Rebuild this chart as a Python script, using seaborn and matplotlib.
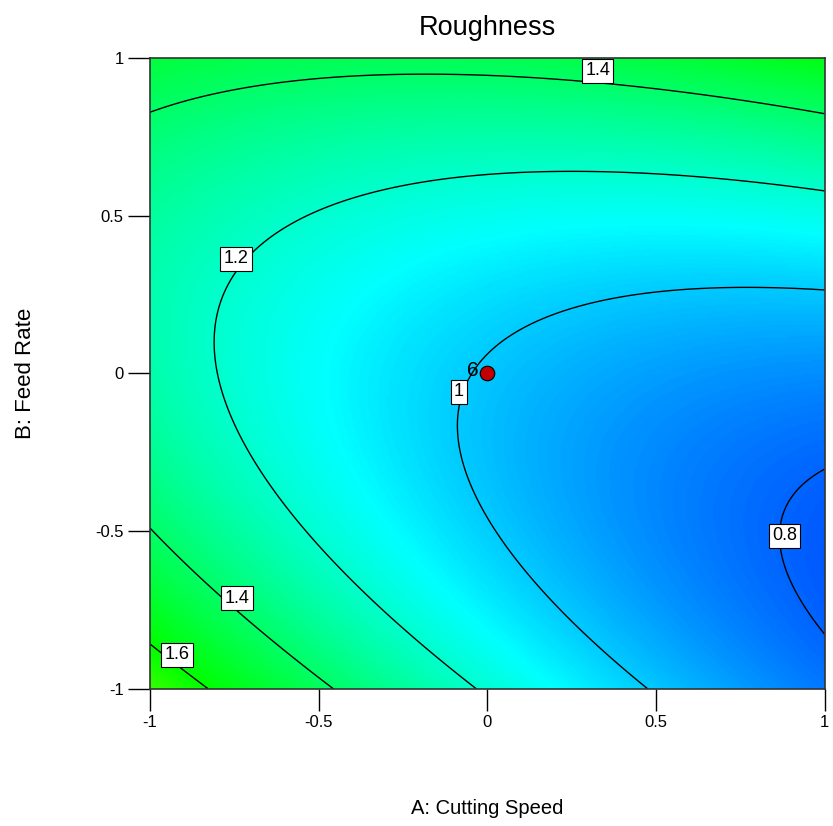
import numpy as np
import matplotlib
matplotlib.use("Agg")
import matplotlib.pyplot as plt
from matplotlib.colors import LinearSegmentedColormap
import seaborn as sns

# Quadratic response-surface model for Roughness in coded factors
# R = b0 + bA*A + bB*B + bAB*A*B + bAA*A^2 + bBB*B^2
b0 = 0.991
bA = -0.194
bB = 0.128
bAB = 0.237
bAA = 0.084
bBB = 0.323

# Contour levels, and label anchors (A, B, level)
levels = [0.8, 1.0, 1.2, 1.4, 1.6]
label_a = [0.327, -0.745, -0.084, 0.881, -0.742, -0.920]
label_b = [0.959, 0.363, -0.059, -0.515, -0.712, -0.892]
label_lv = [1.4, 1.2, 1.0, 0.8, 1.4, 1.6]

# Design point (centre point with 6 replicates)
design_a = [0.0]
design_b = [0.0]
design_reps = ["6"]

ticks = [-1, -0.5, 0, 0.5, 1]

sns.set_theme(style="white")
plt.rcParams["font.family"] = ["Liberation Sans Narrow", "Liberation Sans", "DejaVu Sans"]
plt.rcParams["text.color"] = "black"
plt.rcParams["axes.labelcolor"] = "black"
plt.rcParams["xtick.color"] = "black"
plt.rcParams["ytick.color"] = "black"

fig = plt.figure(figsize=(8.33, 8.26), dpi=100)
ax = fig.add_axes([0.180, 0.166, 0.810, 0.764])

a = np.linspace(-1, 1, 401)
b = np.linspace(-1, 1, 401)
A, B = np.meshgrid(a, b)
R = b0 + bA * A + bB * B + bAB * A * B + bAA * A**2 + bBB * B**2

cmap = LinearSegmentedColormap.from_list(
    "dx", [(0.0, "#0000ff"), (0.25, "#00ffff"), (0.5, "#00ff00"),
           (0.75, "#ffff00"), (1.0, "#ff0000")])
ax.imshow(R, extent=(-1, 1, -1, 1), origin="lower", cmap=cmap,
          vmin=0.6, vmax=2.6, interpolation="bilinear", aspect="auto")

ax.contour(A, B, R, levels=levels, colors="black", linewidths=1.0)
for xa, yb, lv in zip(label_a, label_b, label_lv):
    ax.text(xa, yb, f"{lv:g}", ha="center", va="center", fontsize=13,
            zorder=4,
            bbox=dict(facecolor="white", edgecolor="black", linewidth=0.8, pad=2.4))

sns.scatterplot(x=design_a, y=design_b, ax=ax, s=110, color="#c00000",
                edgecolor="black", linewidth=0.8, zorder=5, legend=False)
for xa, yb, n in zip(design_a, design_b, design_reps):
    ax.text(xa - 0.025, yb + 0.008, n, ha="right", va="center", fontsize=15,
            color="black", zorder=6)

ax.set_xlim(-1, 1)
ax.set_ylim(-1, 1)
ax.set_xticks(ticks)
ax.set_yticks(ticks)
ax.set_xticklabels([f"{v:g}" for v in ticks])
ax.set_yticklabels([f"{v:g}" for v in ticks])
ax.tick_params(direction="out", length=16, width=1, color="black",
               labelsize=12, pad=3, bottom=True, left=True)

for sp in ax.spines.values():
    sp.set_visible(True)
    sp.set_color("#333333")
    sp.set_linewidth(1.2)

ax.set_title("Roughness", fontsize=19.5, y=1.034, va="center")
ax.set_xlabel("A: Cutting Speed", fontsize=14.5, va="center")
ax.set_ylabel("B: Feed Rate", fontsize=16, va="center")
ax.xaxis.set_label_coords(0.5, -0.189)
ax.yaxis.set_label_coords(-0.185, 0.5)

fig.savefig("out.png", dpi=100)
